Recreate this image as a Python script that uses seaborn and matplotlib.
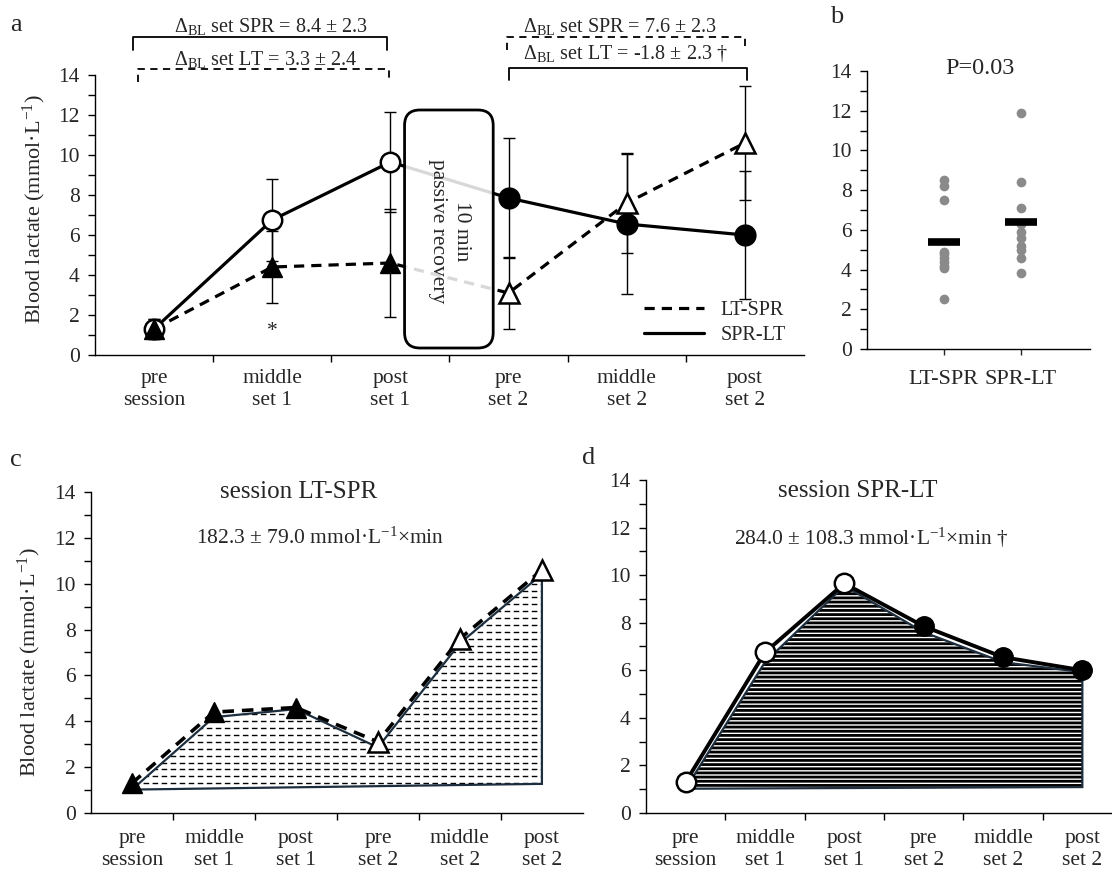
import numpy as np
import pandas as pd
import matplotlib.pyplot as plt
import seaborn as sns
from matplotlib.patches import FancyBboxPatch, Polygon
from matplotlib.lines import Line2D
from matplotlib.ticker import MultipleLocator, FixedLocator, FixedFormatter, NullFormatter

# ---- данные ----
categories = ["pre\nsession", "middle\nset 1", "post\nset 1", "pre\nset 2", "middle\nset 2", "post\nset 2"]

# панель a: средние и SD лактата (ммоль/л)
lt_spr_mean = [1.3, 4.4, 4.6, 3.1, 7.6, 10.6]
lt_spr_sd = [0.5, 1.8, 2.7, 1.8, 2.5, 2.85]
spr_lt_mean = [1.3, 6.75, 9.65, 7.85, 6.55, 6.0]
spr_lt_sd = [0.5, 2.05, 2.5, 3.0, 3.5, 3.2]
set1_filled_lt = [True, True, True, False, False, False]   # LT-SPR: закрашены в 1-м сете

# панель b: индивидуальные значения
b_groups = ["LT-SPR", "SPR-LT"]
b_lt_spr = [8.5, 8.2, 7.5, 4.9, 4.8, 4.6, 4.4, 4.2, 4.1, 2.5]
b_spr_lt = [11.9, 8.4, 7.1, 6.3, 5.9, 5.6, 5.2, 5.0, 4.6, 3.8]

# панели c, d: контур площади под кривой
auc_lt = [1.02, 4.18, 4.53, 2.86, 7.4, 10.42]
auc_lt_end = 1.27
auc_spr = [1.02, 6.34, 9.55, 7.6, 6.34, 5.92]
auc_spr_end = 1.09

x_idx = np.arange(len(categories))

sns.set_style("ticks")
plt.rcParams['font.family'] = ['Liberation Serif', 'DejaVu Serif']
plt.rcParams['mathtext.fontset'] = 'custom'
plt.rcParams['mathtext.rm'] = 'Liberation Serif'
plt.rcParams['mathtext.it'] = 'Liberation Serif:italic'
plt.rcParams['mathtext.bf'] = 'Liberation Serif:bold'
plt.rcParams['hatch.linewidth'] = 2.0

FS = 15.5
fig = plt.figure(figsize=(11.12, 8.77), dpi=100)
ax_a = fig.add_axes([0.0854, 0.5952, 0.6376, 0.3193])
ax_b = fig.add_axes([0.7797, 0.6021, 0.2005, 0.3170])
ax_c = fig.add_axes([0.0818, 0.0730, 0.4424, 0.3660])
ax_d = fig.add_axes([0.5809, 0.0730, 0.4281, 0.3797])


def style_y(ax):
    sns.despine(ax=ax)
    for s in ax.spines.values():
        s.set_color('black')
        s.set_linewidth(1)
    ax.set_ylim(0, 14)
    ax.yaxis.set_major_locator(MultipleLocator(2))
    ax.yaxis.set_minor_locator(MultipleLocator(1))
    ax.tick_params(axis='y', which='both', direction='out', length=5, width=1,
                   color='black', labelsize=FS, pad=6)


def style_cat_x(ax, pad):
    ax.set_xlim(-0.5, 5.5)
    ax.xaxis.set_major_locator(FixedLocator(np.arange(0.5, 5, 1)))
    ax.xaxis.set_major_formatter(NullFormatter())
    ax.xaxis.set_minor_locator(FixedLocator(x_idx))
    ax.xaxis.set_minor_formatter(FixedFormatter(categories))
    ax.tick_params(axis='x', which='major', direction='out', length=5, width=1, color='black')
    ax.tick_params(axis='x', which='minor', length=0, pad=pad, labelsize=FS)
    ax.set_xlabel('')


def bracket(ax, x0, x1, y, leg, ls):
    ax.plot([x0, x0, x1, x1], [y - leg, y, y, y - leg], color='black', lw=1.3,
            ls=ls, clip_on=False)


# ---------------- панель a ----------------
ax = ax_a
ax.errorbar(x_idx, spr_lt_mean, yerr=spr_lt_sd, fmt='none', ecolor='black',
            elinewidth=1, capsize=4, capthick=1, zorder=1)
ax.errorbar(x_idx, lt_spr_mean, yerr=lt_spr_sd, fmt='none', ecolor='black',
            elinewidth=1, capsize=4, capthick=1, zorder=1)
sns.lineplot(x=x_idx, y=spr_lt_mean, ax=ax, color='black', lw=2.3, zorder=2)
sns.lineplot(x=x_idx, y=lt_spr_mean, ax=ax, color='black', lw=2.3,
             linestyle=(0, (3.2, 2.2)), zorder=2)

filled = np.array(set1_filled_lt)
ax.plot(x_idx[filled], np.array(spr_lt_mean)[filled], 'o', ms=14, mfc='white',
        mec='black', mew=1.8, zorder=4)
ax.plot(x_idx[~filled], np.array(spr_lt_mean)[~filled], 'o', ms=15, mfc='black',
        mec='black', zorder=4)
ax.plot(x_idx[filled], np.array(lt_spr_mean)[filled], '^', ms=14, mfc='black',
        mec='black', zorder=5)
ax.plot(x_idx[~filled], np.array(lt_spr_mean)[~filled], '^', ms=14, mfc='white',
        mec='black', mew=1.8, zorder=5)

box = FancyBboxPatch((2.12, 0.35), 0.75, 11.9,
                     boxstyle="round,pad=0,rounding_size=0.13",
                     mutation_aspect=5.9, facecolor='white', alpha=0.85,
                     edgecolor='none', zorder=3)
ax.add_patch(box)
box_edge = FancyBboxPatch((2.12, 0.35), 0.75, 11.9,
                          boxstyle="round,pad=0,rounding_size=0.13",
                          mutation_aspect=5.9, facecolor='none',
                          edgecolor='black', lw=2, zorder=3)
ax.add_patch(box_edge)
ax.text(2.5, 6.2, "10 min\npassive recovery", rotation=-90, ha='center',
        va='center', fontsize=FS, linespacing=1.3, zorder=4)
ax.text(1, 1.2, "*", ha='center', va='center', fontsize=FS)

style_y(ax)
style_cat_x(ax, 10)
ax.set_ylabel("Blood lactate (mmol·L$^{-1}$)", fontsize=16)
ax.yaxis.set_label_coords(-0.066, 0.52)

handles = [Line2D([], [], color='black', lw=2.3, ls=(0, (3.2, 2.2))),
           Line2D([], [], color='black', lw=2.3)]
ax.legend(handles, ["LT-SPR", "SPR-LT"], loc='lower right', frameon=False,
          fontsize=14.5, handlelength=3.0, bbox_to_anchor=(1.0, -0.03),
          labelspacing=0.3)

# скобки с разностями
bracket(ax, -0.18, 1.97, 15.9, 0.65, '-')
bracket(ax, -0.14, 1.99, 14.3, 0.65, (0, (4, 3)))
bracket(ax, 2.99, 5.0, 15.9, 0.65, (0, (4, 3)))
bracket(ax, 3.0, 5.02, 14.35, 0.6, '-')
ax.text(0.99, 16.4, r"$\Delta_{\mathrm{BL}}$ set SPR = 8.4 ± 2.3", ha='center',
        va='center', fontsize=14.5, clip_on=False)
ax.text(0.94, 14.75, r"$\Delta_{\mathrm{BL}}$ set LT = 3.3 ± 2.4", ha='center',
        va='center', fontsize=14.5, clip_on=False)
ax.text(3.94, 16.4, r"$\Delta_{\mathrm{BL}}$ set SPR = 7.6 ± 2.3", ha='center',
        va='center', fontsize=14.5, clip_on=False)
ax.text(3.99, 15.05, r"$\Delta_{\mathrm{BL}}$ set LT = -1.8 ± 2.3 †", ha='center',
        va='center', fontsize=14.5, clip_on=False)

# ---------------- панель b ----------------
ax = ax_b
df_b = pd.DataFrame({
    'session': [b_groups[0]] * len(b_lt_spr) + [b_groups[1]] * len(b_spr_lt),
    'value': b_lt_spr + b_spr_lt,
})
sns.stripplot(data=df_b, x='session', y='value', order=b_groups, jitter=False,
              color='#8a8a8a', size=7, linewidth=0, ax=ax, zorder=2)
means = df_b.groupby('session')['value'].mean().reindex(b_groups).values
for i, m in enumerate(means):
    ax.hlines(m, i - 0.21, i + 0.21, color='black', lw=5.5, zorder=3)
style_y(ax)
ax.set_xlim(-1, 1.9)
ax.set_xticks([0, 1])
ax.set_xticklabels(b_groups)
ax.tick_params(axis='x', direction='out', length=4, width=1, pad=11, labelsize=16)
ax.set_xlabel('')
ax.set_ylabel('')
ax.text(0.47, 14.1, "P=0.03", ha='center', va='center', fontsize=17.5)

# ---------------- панель c ----------------
ax = ax_c
poly_pts = list(zip(x_idx, auc_lt)) + [(x_idx[-1], auc_lt_end)]
clip_poly = Polygon(poly_pts, closed=True, facecolor='white', edgecolor='none', zorder=1)
ax.add_patch(clip_poly)
hl = ax.hlines(np.arange(1.3, 11, 0.3), -0.2, 5.2, colors='black', lw=1.0,
               linestyles=(0, (4, 2.5)), zorder=2)
hl.set_clip_path(clip_poly)
ax.add_patch(Polygon(poly_pts, closed=True, facecolor='none', edgecolor='#1d2f3f',
                     lw=1.6, zorder=3))
sns.lineplot(x=x_idx, y=lt_spr_mean, ax=ax, color='black', lw=2.6,
             linestyle=(0, (3.2, 2.2)), zorder=4)
ax.plot(x_idx[filled], np.array(lt_spr_mean)[filled], '^', ms=14, mfc='black',
        mec='black', zorder=5)
ax.plot(x_idx[~filled], np.array(lt_spr_mean)[~filled], '^', ms=14, mfc='white',
        mec='black', mew=1.8, zorder=5)
style_y(ax)
style_cat_x(ax, 11.5)
ax.set_ylabel("Blood lactate (mmol·L$^{-1}$)", fontsize=16)
ax.yaxis.set_label_coords(-0.098, 0.47)
ax.text(2.03, 14.0, "session LT-SPR", ha='center', va='center', fontsize=18)
ax.text(2.3, 11.97, "182.3 ± 79.0 mmol·L$^{-1}$×min", ha='center', va='center',
        fontsize=15.5)

# ---------------- панель d ----------------
ax = ax_d
poly_pts = list(zip(x_idx, auc_spr)) + [(x_idx[-1], auc_spr_end)]
ax.add_patch(Polygon(poly_pts, closed=True, facecolor='white', edgecolor='black',
                     lw=0, hatch='----', zorder=1))
ax.add_patch(Polygon(poly_pts, closed=True, facecolor='none', edgecolor='#1d2f3f',
                     lw=1.6, zorder=2))
sns.lineplot(x=x_idx, y=spr_lt_mean, ax=ax, color='black', lw=2.8, zorder=3)
ax.plot(x_idx[filled], np.array(spr_lt_mean)[filled], 'o', ms=14, mfc='white',
        mec='black', mew=1.8, zorder=4)
ax.plot(x_idx[~filled], np.array(spr_lt_mean)[~filled], 'o', ms=14, mfc='black',
        mec='black', zorder=4)
style_y(ax)
style_cat_x(ax, 11.5)
ax.set_ylabel('')
ax.text(2.17, 13.54, "session SPR-LT", ha='center', va='center', fontsize=18)
ax.text(2.34, 11.58, "284.0 ± 108.3 mmol·L$^{-1}$×min †", ha='center', va='center',
        fontsize=15.5)

# подписи панелей
for lbl, (fx, fy) in zip("abcd", [(0.0144, 0.9715), (0.752, 0.981),
                                  (0.0144, 0.4755), (0.529, 0.478)]):
    fig.text(fx, fy, lbl, ha='center', va='center', fontsize=19)

fig.savefig("out.png", dpi=100)
